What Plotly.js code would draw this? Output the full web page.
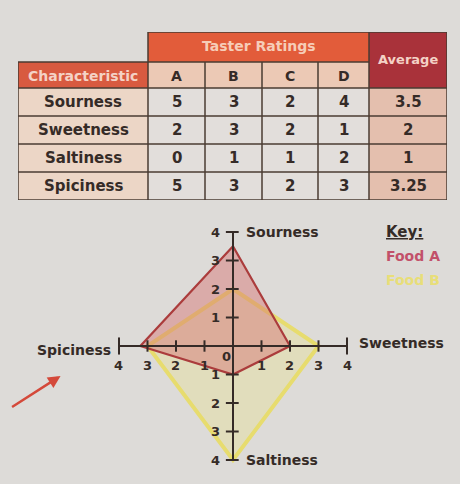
<!DOCTYPE html>
<html>
<head>
<meta charset="utf-8">
<script src="https://cdn.plot.ly/plotly-3.0.1.min.js"></script>
<style>html,body{margin:0;padding:0;background:#dddbd8;}#chart{width:460px;height:484px;}</style>
</head>
<body>
<div id="chart"></div>
<script>
// ---- data ----
const characteristics = ['Sourness', 'Sweetness', 'Saltiness', 'Spiciness'];
const tasters = ['A', 'B', 'C', 'D'];
const tasterA = [5, 2, 0, 5];
const tasterB = [3, 3, 1, 3];
const tasterC = [2, 2, 1, 2];
const tasterD = [4, 1, 2, 3];
const average = ['3.5', '2', '1', '3.25'];
const foodA = [3.5, 2, 1, 3.25];
const foodB = [2, 3, 4, 3];
const tickValues = [1, 2, 3, 4];

// ---- layout constants (table geometry, in table-axis units) ----
const colEdges = [0, 130, 187, 244, 300, 351, 429];
const rowEdges = [0, 30, 56, 84, 112, 140, 168];

// ---- styling ----
const FONT = 'DejaVu Sans, Verdana, sans-serif';
const DARK = '#352b27';
const LINE = '#4a3b32';
const LIGHT = '#f4d2c6';
// cell colour classes
const cellColors = ['#d85a40', '#e25c3a', '#a9323a', '#ecc9b5', '#ecd6c6', '#e2dedb', '#e4bfae'];
const colorscale = [];
cellColors.forEach((c, k) => {
  colorscale.push([k / cellColors.length, c], [(k + 1) / cellColors.length, c]);
});

// spoke directions (up, right, down, left)
const dirs = [[0, 1], [1, 0], [0, -1], [-1, 0]];
function polygon(vals) {
  const xs = [], ys = [];
  vals.forEach((v, i) => { xs.push(v * dirs[i][0]); ys.push(v * dirs[i][1]); });
  xs.push(xs[0]); ys.push(ys[0]);
  return {x: xs, y: ys};
}
const pA = polygon(foodA), pB = polygon(foodB);

// table cell classes: row 0 = top band, row 1 = column header, rows 2.. = body
const nBody = characteristics.length;
const z = [[null, 1, 1, 1, 1, 2], [0, 3, 3, 3, 3, 2]];
for (let r = 0; r < nBody; r++) z.push([4, 5, 5, 5, 5, 6]);

const W = 460, H = 484;
const px = v => v / W, py = v => 1 - v / H;

const traces = [
  {
    type: 'heatmap', xaxis: 'x2', yaxis: 'y2',
    x: colEdges, y: rowEdges, z: z,
    zmin: -0.5, zmax: cellColors.length - 0.5,
    colorscale: colorscale, showscale: false, hoverinfo: 'skip'
  },
  {
    type: 'scatter', mode: 'lines', x: pB.x, y: pB.y, fill: 'toself',
    fillcolor: 'rgba(234,226,130,0.32)', line: {color: 'rgba(232,220,100,0.9)', width: 4},
    hoverinfo: 'skip'
  },
  {
    type: 'scatter', mode: 'lines', x: pA.x, y: pA.y, fill: 'toself',
    fillcolor: 'rgba(214,112,112,0.45)', line: {color: '#ab3c3c', width: 2.2},
    hoverinfo: 'skip'
  }
];

const shapes = [];
const annotations = [];
const tl = (x0, x1, y0, y1) => shapes.push({type: 'line', xref: 'x2', yref: 'y2', x0, x1, y0, y1,
                                             line: {color: LINE, width: 1.5}});
// table grid lines
const last = colEdges.length - 1;
tl(colEdges[1], colEdges[last], rowEdges[0], rowEdges[0]);
tl(colEdges[0], colEdges[last - 1], rowEdges[1], rowEdges[1]);
for (let r = 2; r < rowEdges.length; r++) tl(colEdges[0], colEdges[last], rowEdges[r], rowEdges[r]);
tl(colEdges[0], colEdges[0], rowEdges[1], rowEdges[rowEdges.length - 1]);
[1, last - 1, last].forEach(c => tl(colEdges[c], colEdges[c], rowEdges[0], rowEdges[rowEdges.length - 1]));
for (let c = 2; c < last - 1; c++) tl(colEdges[c], colEdges[c], rowEdges[1], rowEdges[rowEdges.length - 1]);

// table texts
const cx = c => (colEdges[c] + colEdges[c + 1]) / 2;
const cy = r => (rowEdges[r] + rowEdges[r + 1]) / 2;
const tText = (x, y, text, color, size) => annotations.push({xref: 'x2', yref: 'y2', x, y, text: '<b>' + text + '</b>',
  showarrow: false, font: {family: FONT, size: size, color: color}});
tText((colEdges[1] + colEdges[last - 1]) / 2, cy(0) - 1, 'Taster Ratings', '#f6cdb8', 14);
tText(cx(last - 1), rowEdges[1] - 3, 'Average', LIGHT, 13);
tText(cx(0), cy(1) + 1, 'Characteristic', LIGHT, 14);
tasters.forEach((t, i) => tText(cx(i + 1), cy(1) + 1, t, DARK, 14));
const ratings = [tasterA, tasterB, tasterC, tasterD];
characteristics.forEach((ch, r) => {
  tText(cx(0), cy(r + 2), ch, DARK, 15);
  ratings.forEach((col, i) => tText(cx(i + 1), cy(r + 2), col[r], DARK, 15));
  tText(cx(last - 1), cy(r + 2), average[r], DARK, 15);
});

// chart axis lines
shapes.push({type: 'line', xref: 'x', yref: 'y', x0: -4, x1: 4, y0: 0, y1: 0, line: {color: DARK, width: 2}});
shapes.push({type: 'line', xref: 'x', yref: 'y', x0: 0, x1: 0, y0: -4, y1: 4, line: {color: DARK, width: 2}});

// ticks and tick labels on each spoke
tickValues.forEach(t => {
  const cap = (t === 4) ? 0.3 : 0.2;
  [-1, 1].forEach(s => {
    shapes.push({type: 'line', xref: 'x', yref: 'y', x0: s * t, x1: s * t, y0: -cap, y1: cap,
                 line: {color: DARK, width: 2}});
    annotations.push({xref: 'x', yref: 'y', x: s * t, y: -0.7, text: '<b>' + t + '</b>', showarrow: false,
                      font: {family: FONT, size: 13, color: DARK}});
    shapes.push({type: 'line', xref: 'x', yref: 'y', x0: -0.25, x1: 0.2, y0: s * t, y1: s * t,
                 line: {color: DARK, width: 2}});
    annotations.push({xref: 'x', yref: 'y', x: -0.6, y: s * t, text: '<b>' + t + '</b>', showarrow: false,
                      font: {family: FONT, size: 13, color: DARK}});
  });
});
annotations.push({xref: 'x', yref: 'y', x: -0.22, y: -0.38, text: '<b>0</b>', showarrow: false,
                  font: {family: FONT, size: 13, color: DARK}});

// spoke labels
const labelPos = [
  {x: 0.4, y: 4, xanchor: 'left'},
  {x: 4.35, y: 0.1, xanchor: 'left'},
  {x: 0.4, y: -4, xanchor: 'left'},
  {x: -4.2, y: -0.15, xanchor: 'right'}
];
characteristics.forEach((c, i) => {
  annotations.push({xref: 'x', yref: 'y', x: labelPos[i].x, y: labelPos[i].y, xanchor: labelPos[i].xanchor,
                    text: '<b>' + c + '</b>', showarrow: false, font: {family: FONT, size: 14, color: DARK}});
});

// key
annotations.push(
  {xref: 'paper', yref: 'paper', x: px(384), y: py(232), xanchor: 'left', text: '<b><u>Key:</u></b>', showarrow: false,
   font: {family: FONT, size: 15, color: DARK}},
  {xref: 'paper', yref: 'paper', x: px(384), y: py(256), xanchor: 'left', text: '<b>Food A</b>', showarrow: false,
   font: {family: FONT, size: 14, color: '#c2506a'}},
  {xref: 'paper', yref: 'paper', x: px(384), y: py(280), xanchor: 'left', text: '<b>Food B</b>', showarrow: false,
   font: {family: FONT, size: 14, color: '#e8de78'}}
);

// red pointer arrow
annotations.push({xref: 'x', yref: 'y', x: -6.05, y: -1.05, ax: -50, ay: 32, text: '', showarrow: true,
                  arrowhead: 2, arrowsize: 1, arrowwidth: 2.5, arrowcolor: '#d4493a'});

const layout = {
  width: W, height: H,
  margin: {l: 0, r: 0, t: 0, b: 0},
  paper_bgcolor: '#dddbd8',
  plot_bgcolor: 'rgba(0,0,0,0)',
  showlegend: false,
  xaxis: {domain: [0, 1], range: [-8.175, 7.965], visible: false, fixedrange: true},
  yaxis: {domain: [0, 0.562], range: [-4.842, 4.702], visible: false, fixedrange: true},
  xaxis2: {domain: [px(18), px(447)], range: [colEdges[0], colEdges[last]], visible: false, anchor: 'y2', fixedrange: true},
  yaxis2: {domain: [py(200), py(32)], range: [rowEdges[rowEdges.length - 1], rowEdges[0]], visible: false, anchor: 'x2', fixedrange: true},
  shapes: shapes,
  annotations: annotations
};

Plotly.newPlot('chart', traces, layout, {displayModeBar: false, staticPlot: true});
</script>
</body>
</html>
